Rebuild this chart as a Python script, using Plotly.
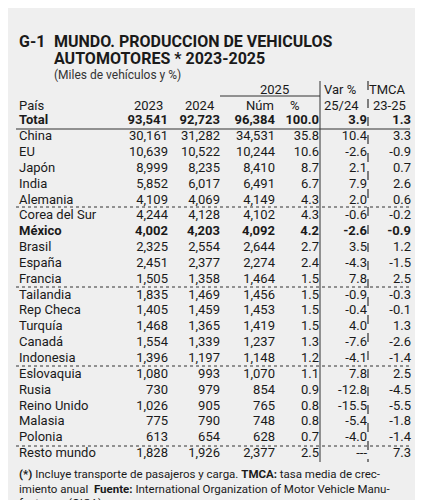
import plotly.graph_objects as go

paises = ["China","EU","Japón","India","Alemania","Corea del Sur","México","Brasil","España","Francia",
          "Tailandia","Rep Checa","Turquía","Canadá","Indonesia","Eslovaquia","Rusia","Reino Unido",
          "Malasia","Polonia","Resto mundo"]
v2023 = ["30,161","10,639","8,999","5,852","4,109","4,244","4,002","2,325","2,451","1,505",
         "1,835","1,405","1,468","1,554","1,396","1,080","730","1,026","775","613","1,828"]
v2024 = ["31,282","10,522","8,235","6,017","4,069","4,128","4,203","2,554","2,377","1,358",
         "1,469","1,459","1,365","1,339","1,197","993","979","905","790","654","1,926"]
v2025 = ["34,531","10,244","8,410","6,491","4,149","4,102","4,092","2,644","2,274","1,464",
         "1,456","1,453","1,419","1,237","1,148","1,070","854","765","748","628","2,377"]
pct = ["35.8","10.6","8.7","6.7","4.3","4.3","4.2","2.7","2.4","1.5",
       "1.5","1.5","1.5","1.3","1.2","1.1","0.9","0.8","0.8","0.7","2.5"]
var = ["10.4","-2.6","2.1","7.9","2.0","-0.6","-2.6","3.5","-4.3","7.8",
       "-0.9","-0.4","4.0","-7.6","-4.1","7.8","-12.8","-15.5","-5.4","-4.0","---"]
tmca = ["3.3","-0.9","0.7","2.6","0.6","-0.2","-0.9","1.2","-1.5","2.5",
        "-0.3","-0.1","1.3","-2.6","-1.4","2.5","-4.5","-5.5","-1.8","-1.4","7.3"]
total = ["Total","93,541","92,723","96,384","100.0","3.9","1.3"]
headers = ["País","2023","2024","Núm","%","25/24","23-25"]

FONT = "Roboto"
rows = ["Total"] + paises
cols = [[total[0]]+paises, [total[1]]+v2023, [total[2]]+v2024, [total[3]]+v2025,
        [total[4]]+pct, [total[5]]+var, [total[6]]+tmca]
bold_rows = {0, 7}
y0, dy = 107, 15.85
ys = [y0 + i*dy for i in range(len(rows))]
xpos = [17, 166, 218, 273, 317, 365, 409]

fig = go.Figure()
for ci, col in enumerate(cols):
    txt = [f"<b>{t}</b>" if i in bold_rows else t for i, t in enumerate(col)]
    fig.add_trace(go.Scatter(
        x=[xpos[ci]]*len(col), y=ys, text=txt, mode="text",
        textposition="middle right" if ci == 0 else "middle left",
        textfont=dict(family=FONT, size=13, color="#1a1a1a"),
        hoverinfo="skip", showlegend=False))

anns = []
def A(x, y, t, size=13, anchor="left", color="#1a1a1a"):
    anns.append(dict(x=x, y=y, xref="x", yref="y", text=t, showarrow=False,
                     xanchor=anchor, yanchor="middle",
                     font=dict(family=FONT, size=size, color=color)))
A(15, 27, "<b>G-1</b>", 16)
A(50, 27, "<b>MUNDO. PRODUCCION DE VEHICULOS</b>", 16)
A(50, 44, "<b>AUTOMOTORES * 2023-2025</b>", 16)
A(50, 61, "(Miles de vehículos y %)", 12, color="#333")
A(272, 75, "2025", 13, "center")
A(320, 75, "Var %", 13)
A(406, 75, "TMCA", 13, "right")
hx = [15, 163, 215, 258, 300, 320, 406]
ha = ["left", "right", "right", "center", "right", "left", "right"]
for x, t, a in zip(hx, headers, ha):
    A(x, 91, t, 13, a)
A(15, 460, "<b>(*)</b> Incluye transporte de pasajeros y carga. <b>TMCA:</b> tasa media de crec-", 11.5)
A(15, 475, "imiento anual  <b>Fuente:</b> International Organization of Motor Vehicle Manu-", 11.5)
A(15, 489, "facturers (OICA)", 11.5)

shapes = [
    dict(type="line", x0=218, x1=318, y0=82, y1=82, line=dict(color="#333", width=1)),
    dict(type="line", x0=14, x1=408, y0=115, y1=115, line=dict(color="#333", width=1.2)),
    dict(type="line", x0=318, x1=318, y0=67, y1=448, line=dict(color="#333", width=1)),
    dict(type="line", x0=366, x1=366, y0=67, y1=448, line=dict(color="#333", width=1.2, dash="dash")),
]
for yl in [193, 273, 352, 432]:
    shapes.append(dict(type="line", x0=14, x1=408, y0=yl, y1=yl,
                       line=dict(color="#333", width=1, dash="dot")))

fig.update_layout(
    width=423, height=500, margin=dict(l=0, r=0, t=0, b=0),
    paper_bgcolor="#efefef", plot_bgcolor="#efefef",
    xaxis=dict(range=[6, 429], visible=False, fixedrange=True),
    yaxis=dict(range=[494, -6], visible=False, fixedrange=True),
    annotations=anns, shapes=shapes)
fig.write_html("out.html")
